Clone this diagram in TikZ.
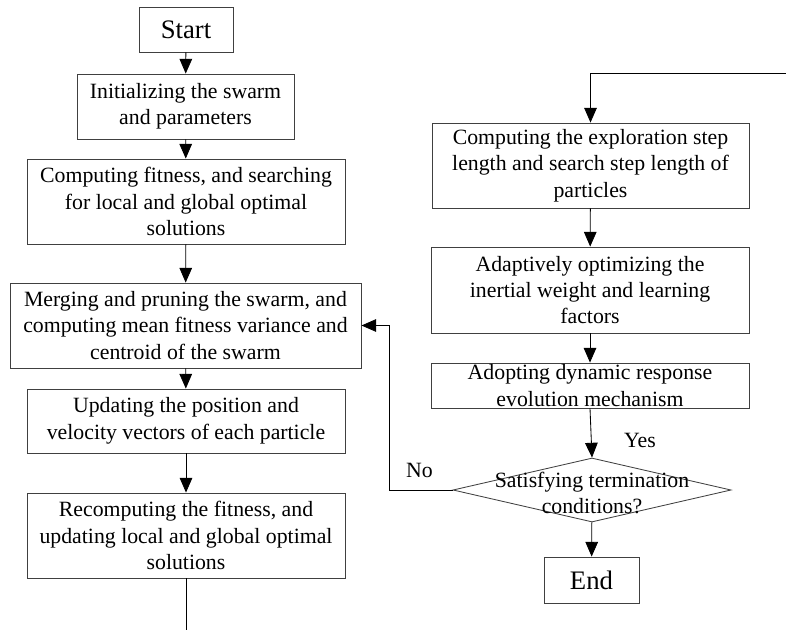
\documentclass[tikz,border=0pt]{standalone}
\usepackage{fontspec}
\setmainfont{Liberation Serif}
\usetikzlibrary{positioning, shapes.geometric, arrows.meta}

\tikzset{
  box/.style={draw=black!75, line width=0.6pt, align=center, inner sep=0pt,
    font=\fontsize{15.5}{18.8}\selectfont},
  termbox/.style={draw=black!75, line width=0.6pt, inner sep=0pt,
    font=\fontsize{19}{22}\selectfont},
  decision/.style={diamond, draw=black!75, line width=0.6pt, inner sep=0pt,
    minimum width=6.95cm, minimum height=1.6cm},
  arr/.style={-{Triangle[length=10.5pt,width=9pt]}, line width=0.6pt, draw=black},
  plain/.style={line width=0.6pt, draw=black},
  lbl/.style={font=\fontsize{15.5}{18.8}\selectfont},
}

\begin{document}
\begin{tikzpicture}[x=0.025cm, y=-0.025cm]
    \useasboundingbox (0,0) rectangle (786,630);

    % left column
    \node[termbox, minimum width=2.35cm, minimum height=1.125cm] (start) at (186,29.5) {Start};
    \node[box, minimum width=5.425cm, minimum height=1.625cm] (init) at (185.5,106.5)
        {Initializing the swarm\\and parameters};
    \node[box, minimum width=7.95cm, minimum height=2.125cm] (fit) at (186,201.5)
        {Computing fitness, and searching\\for local and global optimal\\solutions};
    \node[box, minimum width=8.775cm, minimum height=2.125cm] (merge) at (185.5,325.5)
        {Merging and pruning the swarm, and\\computing mean fitness variance and\\centroid of the swarm};
    \node[box, minimum width=7.95cm, minimum height=1.6cm] (upd) at (186,421)
        {Updating the position and\\velocity vectors of each particle};
    \node[box, minimum width=7.95cm, minimum height=2.125cm] (recomp) at (186,535.5)
        {Recomputing the fitness, and\\updating local and global optimal\\solutions};
    \coordinate (bot) at (186,630);

    % right column
    \coordinate (top) at (786,73);
    \node[box, minimum width=7.925cm, minimum height=2.125cm] (expl) at (590.5,165.5)
        {Computing the exploration step\\length and search step length of\\particles};
    \node[box, minimum width=7.95cm, minimum height=2.15cm] (adapt) at (590,290)
        {Adaptively optimizing the\\inertial weight and learning\\factors};
    \node[box, minimum width=7.95cm, minimum height=1.125cm] (adopt) at (590,385.5)
        {Adopting dynamic response\\evolution mechanism};
    \node[decision] (cond) at (592,490) {};
    \node[lbl, align=center] (condtxt) at (592,493) {Satisfying termination\\conditions?};
    \node[termbox, minimum width=2.375cm, minimum height=1.15cm] (end) at (591.5,580) {End};

    % labels
    \node[lbl] (yes) at (640,440) {Yes};
    \node[lbl] (no) at (419.5,470) {No};

    % arrows
    \draw[arr] (start) -- (init);
    \draw[arr] (init) -- (fit);
    \draw[arr] (fit) -- (merge);
    \draw[arr] (merge) -- (upd);
    \draw[arr] (upd) -- (recomp);
    \draw[plain] (recomp) -- (bot);

    \draw[arr] (top) -| (expl.north);
    \draw[arr] (expl) -- (adapt);
    \draw[arr] (adapt) -- (adopt);
    \draw[arr] (adopt.south) -- (cond.north);
    \draw[arr] (cond) -- (end);
    \draw[arr] (cond.west) -- ++(-63,0) |- (merge.east);
\end{tikzpicture}
\end{document}
